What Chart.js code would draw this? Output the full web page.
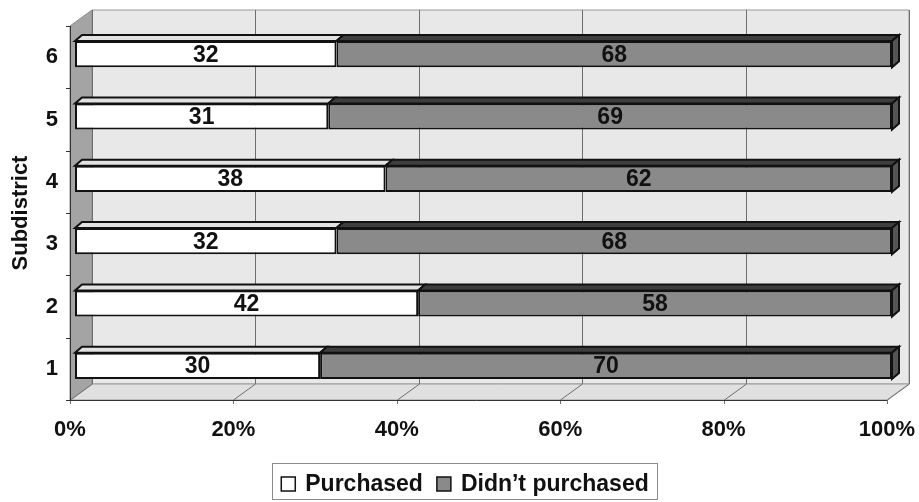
<!DOCTYPE html>
<html>
<head>
<meta charset="utf-8">
<script src="https://cdn.jsdelivr.net/npm/chart.js@4.4.1/dist/chart.umd.min.js"></script>
<style>
  html, body { margin: 0; padding: 0; background: #fff; }
  #wrap { width: 919px; height: 502px; }
</style>
</head>
<body>
<div id="wrap"><canvas id="chart" width="919" height="502"></canvas></div>
<script>
// ── Data ──────────────────────────────────────────────
const subdistricts   = ['1', '2', '3', '4', '5', '6'];
const purchased      = [30, 42, 32, 38, 31, 32];
const didntPurchased = [70, 58, 68, 62, 69, 68];
const xTicks         = [0, 20, 40, 60, 80, 100];

// ── 3D look ───────────────────────────────────────────
const DEPTH = { x: 22, y: -16 };   // back wall offset
const BAR_OFF = { x: 5, y: -3 };   // bar front face offset
const BAR_D = { x: 7, y: -6 };     // bar thickness
const FAMILY = '"Liberation Sans", Arial, sans-serif';
const FONT = 'bold 23px ' + FAMILY;

function poly(ctx, pts, fill, stroke, lw) {
  ctx.beginPath();
  ctx.moveTo(pts[0][0], pts[0][1]);
  for (let i = 1; i < pts.length; i++) ctx.lineTo(pts[i][0], pts[i][1]);
  ctx.closePath();
  if (fill) { ctx.fillStyle = fill; ctx.fill(); }
  if (stroke) { ctx.strokeStyle = stroke; ctx.lineWidth = lw || 1; ctx.stroke(); }
}

const walls = {
  id: 'walls',
  beforeDatasetsDraw(chart) {
    const { ctx, chartArea: a, scales } = chart;
    const dx = DEPTH.x, dy = DEPTH.y;
    ctx.save();
    // back wall
    poly(ctx, [[a.left + dx, a.top + dy], [a.right + dx, a.top + dy],
               [a.right + dx, a.bottom + dy], [a.left + dx, a.bottom + dy]], '#e8e8e8', '#9a9a9a', 1);
    // left wall
    poly(ctx, [[a.left, a.top], [a.left + dx, a.top + dy],
               [a.left + dx, a.bottom + dy], [a.left, a.bottom]], '#a4a4a4', '#8a8a8a', 1);
    // floor
    poly(ctx, [[a.left, a.bottom], [a.right, a.bottom],
               [a.right + dx, a.bottom + dy], [a.left + dx, a.bottom + dy]], '#e0e0e0', '#9a9a9a', 1);
    // gridlines on back wall + floor
    ctx.strokeStyle = '#6e6e6e';
    ctx.lineWidth = 1;
    xTicks.forEach(v => {
      const px = Math.round(scales.x.getPixelForValue(v)) + 0.5;
      ctx.beginPath();
      ctx.moveTo(px + dx, a.top + dy);
      ctx.lineTo(px + dx, a.bottom + dy);
      ctx.moveTo(px, a.bottom);
      ctx.lineTo(px + dx, a.bottom + dy);
      ctx.moveTo(px, a.bottom);
      ctx.lineTo(px, a.bottom + 4);
      ctx.stroke();
    });
    // front edges
    ctx.strokeStyle = '#333';
    ctx.beginPath();
    ctx.moveTo(a.left - 4, a.bottom + 0.5);
    ctx.lineTo(a.right, a.bottom + 0.5);
    ctx.moveTo(a.left + 0.5, a.top);
    ctx.lineTo(a.left + 0.5, a.bottom);
    // y tick marks at category boundaries
    for (let i = 0; i <= subdistricts.length; i++) {
      const y = Math.round(a.top + (a.bottom - a.top) * i / subdistricts.length) + 0.5;
      ctx.moveTo(a.left - 4, y);
      ctx.lineTo(a.left, y);
    }
    ctx.stroke();

    // 3D top and side faces of bars
    ctx.translate(BAR_OFF.x, BAR_OFF.y);
    const bdx = BAR_D.x, bdy = BAR_D.y;
    const tops = ['#e2e2e2', '#3e3e3e'];
    chart.data.datasets.forEach((ds, di) => {
      chart.getDatasetMeta(di).data.forEach(bar => {
        const l = Math.min(bar.base, bar.x), r = Math.max(bar.base, bar.x);
        const t = bar.y - bar.height / 2, b = bar.y + bar.height / 2;
        poly(ctx, [[l, t], [r, t], [r + bdx, t + bdy], [l + bdx, t + bdy]], tops[di], '#111', 2);
        if (di === chart.data.datasets.length - 1) {
          poly(ctx, [[r, t], [r + bdx, t + bdy], [r + bdx, b + bdy], [r, b]], '#555', '#111', 2);
        }
      });
    });
    ctx.restore();
    // shift front faces of bars
    ctx.save();
    ctx.translate(BAR_OFF.x, BAR_OFF.y);
  },
  afterDatasetsDraw(chart) {
    const { ctx } = chart;
    ctx.restore();
    // value labels
    ctx.save();
    ctx.font = FONT;
    ctx.fillStyle = '#111';
    ctx.textAlign = 'center';
    ctx.textBaseline = 'middle';
    chart.data.datasets.forEach((ds, di) => {
      chart.getDatasetMeta(di).data.forEach((bar, i) => {
        const cx = (bar.base + bar.x) / 2 + BAR_OFF.x;
        ctx.fillText(String(ds.data[i]), cx, bar.y + BAR_OFF.y + 1);
      });
    });
    ctx.restore();
  }
};

// legend with border box
const boxLegend = {
  id: 'boxLegend',
  afterDraw(chart) {
    const { ctx } = chart;
    const items = chart.data.datasets.map(ds => ({ label: ds.label, color: ds.backgroundColor }));
    ctx.save();
    ctx.font = FONT;
    const sq = 14, gap = 10, itemGap = 14;
    const widths = items.map(it => sq + gap + ctx.measureText(it.label).width);
    const total = widths.reduce((s, w) => s + w, 0) + itemGap * (items.length - 1);
    const cx = 465, cy = 484;
    const pad = 9;
    const bx = Math.round(cx - total / 2 - pad) + 0.5;
    ctx.strokeStyle = '#8a8a8a';
    ctx.lineWidth = 1;
    ctx.strokeRect(bx, 463.5, Math.round(total + 2 * pad), 36);
    let x = cx - total / 2;
    items.forEach((it, i) => {
      ctx.fillStyle = it.color;
      ctx.fillRect(x, cy - sq / 2, sq, sq);
      ctx.strokeStyle = '#111';
      ctx.lineWidth = 1.5;
      ctx.strokeRect(x, cy - sq / 2, sq, sq);
      ctx.fillStyle = '#111';
      ctx.textBaseline = 'middle';
      ctx.textAlign = 'left';
      ctx.fillText(it.label, x + sq + gap, cy + 1);
      x += widths[i] + itemGap;
    });
    ctx.restore();
  }
};

const ctx = document.getElementById('chart').getContext('2d');
const chart = new Chart(ctx, {
  type: 'bar',
  data: {
    labels: subdistricts,
    datasets: [
      {
        label          : 'Purchased',
        data           : purchased,
        backgroundColor: '#ffffff',
        borderColor    : '#111',
        borderWidth    : 2,
        borderSkipped  : false
      },
      {
        label          : 'Didn\u2019t purchased',
        data           : didntPurchased,
        backgroundColor: '#8a8a8a',
        borderColor    : '#111',
        borderWidth    : 2,
        borderSkipped  : false
      }
    ]
  },
  options: {
    indexAxis          : 'y',
    responsive         : false,
    animation          : false,
    layout             : { padding: { top: 26, right: 32, bottom: 0, left: 8 } },
    datasets           : { bar: { barPercentage: 0.42, categoryPercentage: 1 } },
    plugins: {
      legend : { display: false },
      tooltip: { enabled: false }
    },
    scales: {
      x: {
        stacked: true,
        min    : 0,
        max    : 100,
        grid   : { display: false, drawTicks: false },
        border : { display: false },
        afterFit: s => { s.height = 102; s.paddingLeft = 0; s.paddingRight = 0; },
        afterBuildTicks: s => { s.ticks = xTicks.map(v => ({ value: v })); },
        ticks  : { color: '#111', padding: 17, maxRotation: 0,
                   font: { family: FAMILY, size: 22, weight: 'bold' },
                   callback: v => v + '%' }
      },
      y: {
        stacked: true,
        reverse: true,
        grid   : { display: false, drawTicks: false },
        border : { display: false },
        afterFit: s => { s.width = 62; },
        title  : { display: true, text: 'Subdistrict', color: '#111', padding: 0,
                   font: { family: FAMILY, size: 22, weight: 'bold' } },
        ticks  : { color: '#111', padding: 12,
                   font: { family: FAMILY, size: 22, weight: 'bold' } }
      }
    }
  },
  plugins: [walls, boxLegend]
});
</script>
</body>
</html>
